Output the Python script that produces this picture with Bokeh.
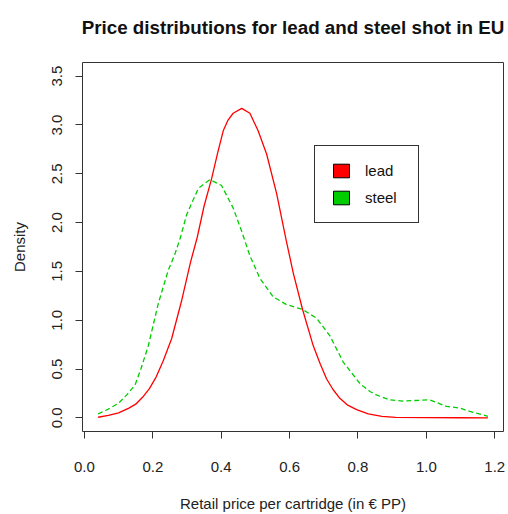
from bokeh.plotting import figure
from bokeh.models import Range1d, Legend, LegendItem, FixedTicker, Title
from bokeh.embed import file_html
from bokeh.resources import INLINE

# ---- data ----
lead_x = [0.04, 0.07, 0.10, 0.13, 0.15, 0.17, 0.19, 0.21, 0.23, 0.255, 0.285, 0.31,
          0.33, 0.35, 0.372, 0.39, 0.406, 0.42, 0.435, 0.46, 0.484, 0.508, 0.533,
          0.562, 0.59, 0.611, 0.638, 0.669, 0.69, 0.708, 0.727, 0.747, 0.77, 0.796,
          0.83, 0.87, 0.91, 1.0, 1.1, 1.18]
lead_y = [0.006, 0.025, 0.05, 0.10, 0.14, 0.21, 0.30, 0.42, 0.58, 0.81, 1.21, 1.59,
          1.85, 2.17, 2.45, 2.72, 2.94, 3.05, 3.12, 3.17, 3.12, 2.94, 2.70,
          2.30, 1.82, 1.48, 1.11, 0.74, 0.55, 0.40, 0.29, 0.20, 0.13, 0.084,
          0.04, 0.015, 0.004, 0.002, 0.001, 0.0]

steel_x = [0.04, 0.07, 0.10, 0.125, 0.148, 0.165, 0.187, 0.216, 0.245, 0.265, 0.28,
           0.299, 0.333, 0.367, 0.401, 0.435, 0.46, 0.484, 0.513, 0.552, 0.591,
           0.638, 0.679, 0.718, 0.757, 0.806, 0.835, 0.854, 0.893, 0.93, 0.961,
           1.01, 1.059, 1.098, 1.127, 1.18]
steel_y = [0.04, 0.09, 0.15, 0.24, 0.335, 0.50, 0.74, 1.17, 1.51, 1.68, 1.84,
           2.08, 2.35, 2.44, 2.38, 2.15, 1.91, 1.66, 1.43, 1.24, 1.16,
           1.11, 1.02, 0.84, 0.57, 0.35, 0.27, 0.235, 0.184, 0.172, 0.177,
           0.184, 0.117, 0.10, 0.066, 0.016]

series_names = ["lead", "steel"]
series_colors = ["#FF0000", "#00CD00"]

x_ticks = [0.0, 0.2, 0.4, 0.6, 0.8, 1.0, 1.2]
x_tick_labels = ["0.0", "0.2", "0.4", "0.6", "0.8", "1.0", "1.2"]
y_ticks = [0.0, 0.5, 1.0, 1.5, 2.0, 2.5, 3.0, 3.5]
y_tick_labels = ["0.0", "0.5", "1.0", "1.5", "2.0", "2.5", "3.0", "3.5"]

FONT = "Liberation Sans"
DARK = "#333333"
NAN = float("nan")

p = figure(width=508, height=514, output_backend="svg", toolbar_location=None,
           x_range=Range1d(-0.0056, 1.2256), y_range=Range1d(-0.14, 3.64),
           min_border_left=82, min_border_right=5, min_border_top=62,
           min_border_bottom=77)

# spacer between the title and the plot frame (nearest the frame)
p.add_layout(Title(text=" ", text_font_size="1px", standoff=22), "above")

p.title.text = "Price distributions for lead and steel shot in EU"
p.title.text_font = FONT
p.title.text_font_size = "18.8px"
p.title.text_font_style = "bold"
p.title.text_color = "#111111"
p.title.align = "center"
p.title.vertical_align = "bottom"
p.title.standoff = 0

p.grid.visible = False
p.outline_line_color = DARK
p.outline_line_width = 1
p.outline_line_alpha = 1
p.background_fill_color = "white"
p.border_fill_color = "white"

p.line(lead_x, lead_y, line_color=series_colors[0], line_width=1.3)
p.line(steel_x, steel_y, line_color=series_colors[1], line_width=1.3,
       line_dash="5 3")

# legend swatches (renderers with no drawable data, shown only in the legend)
r_lead = p.quad(left=[NAN], right=[NAN], top=[NAN], bottom=[NAN],
                fill_color=series_colors[0], line_color="#000000", line_width=1)
r_steel = p.quad(left=[NAN], right=[NAN], top=[NAN], bottom=[NAN],
                 fill_color=series_colors[1], line_color="#000000", line_width=1)

legend = Legend(items=[LegendItem(label=series_names[0], renderers=[r_lead]),
                       LegendItem(label=series_names[1], renderers=[r_steel])],
                location=(232, 208), orientation="vertical",
                border_line_color=DARK, border_line_width=1, border_line_alpha=1,
                background_fill_color="white", background_fill_alpha=1,
                padding=16, spacing=10, margin=0,
                glyph_width=20, glyph_height=17, label_height=17, label_width=37,
                label_standoff=14, label_text_font=FONT,
                label_text_font_size="15px", label_text_color="#111111")
p.add_layout(legend)

# axes
xa = p.xaxis[0]
xa.ticker = FixedTicker(ticks=x_ticks)
xa.major_label_overrides = {t: l for t, l in zip(x_ticks, x_tick_labels)}
xa.bounds = (x_ticks[0], x_ticks[-1])
xa.axis_label = "Retail price per cartridge (in € PP)"
xa.major_label_standoff = 23
xa.axis_label_standoff = 20

ya = p.yaxis[0]
ya.ticker = FixedTicker(ticks=y_ticks)
ya.major_label_overrides = {t: l for t, l in zip(y_ticks, y_tick_labels)}
ya.bounds = (y_ticks[0], y_ticks[-1])
ya.axis_label = "Density"
ya.major_label_orientation = "vertical"
ya.major_label_standoff = 13
ya.axis_label_standoff = 22

for ax in (xa, ya):
    ax.axis_line_color = DARK
    ax.axis_line_width = 1
    ax.major_tick_line_color = DARK
    ax.major_tick_out = 7
    ax.major_tick_in = 0
    ax.minor_tick_line_color = None
    ax.major_label_text_font = FONT
    ax.major_label_text_font_size = "15px"
    ax.major_label_text_color = "#222222"
    ax.axis_label_text_font = FONT
    ax.axis_label_text_font_size = "15px"
    ax.axis_label_text_font_style = "normal"
    ax.axis_label_text_color = "#222222"

open("out.html", "w").write(file_html(p, INLINE))
